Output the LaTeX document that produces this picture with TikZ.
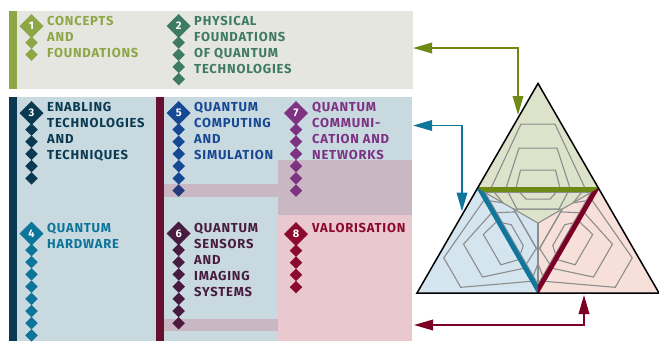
\documentclass[tikz,border=0pt]{standalone}
\usepackage{fontspec}
\setmainfont{Fira Sans}
\newfontfamily\boxfont{Fira Sans}[LetterSpace=6.0]
\usetikzlibrary{positioning,arrows.meta,shapes.geometric}

\definecolor{cone}{RGB}{141,166,70}
\definecolor{ctwo}{RGB}{62,122,100}
\definecolor{cthree}{RGB}{10,58,82}
\definecolor{cfour}{RGB}{14,117,154}
\definecolor{cfive}{RGB}{23,72,148}
\definecolor{csix}{RGB}{72,28,64}
\definecolor{cseven}{RGB}{125,50,130}
\definecolor{ceight}{RGB}{139,10,45}
\definecolor{cbar}{RGB}{104,16,48}
\definecolor{ctopbg}{RGB}{230,230,224}
\definecolor{clowbg}{RGB}{200,217,224}
\definecolor{cmauve}{RGB}{201,184,196}
\definecolor{cpink}{RGB}{233,200,207}
\definecolor{ctopfill}{RGB}{221,227,203}
\definecolor{cleftfill}{RGB}{213,229,240}
\definecolor{crightfill}{RGB}{247,224,218}
\definecolor{colive}{RGB}{110,138,20}
\definecolor{cteal}{RGB}{17,118,156}
\definecolor{cwine}{RGB}{122,0,38}
\definecolor{linegray}{RGB}{140,140,140}

\begin{document}
\begin{tikzpicture}[x=1pt, y=-1pt,
    bigdia/.style={diamond, inner sep=0pt, outer sep=0pt, minimum size=24pt, text=white, font=\boxfont\bfseries\fontsize{11}{11}\selectfont},
    smalldia/.style={diamond, inner sep=0pt, outer sep=0pt, minimum size=12.5pt},
    heading/.style={anchor=north west, inner sep=0pt, align=left, font=\boxfont\bfseries\fontsize{13}{16}\selectfont},
    isoline/.style={draw=linegray, line width=1.1pt},
    link/.style={{Triangle[length=19pt,width=10.5pt]}-{Triangle[length=19pt,width=10.5pt]}, line width=1.8pt}]
\useasboundingbox (0,0) rectangle (659,341);

% panels
\fill[ctopbg] (9,11) rectangle (413,89);
\fill[cone] (9,11) rectangle (17,89);
\fill[clowbg] (9,97) rectangle (412,341);
\fill[cthree] (9,97) rectangle (17,341);
\fill[cbar] (156,97) rectangle (164,341);
\fill[cmauve] (278,160) rectangle (412,215);
\fill[cmauve] (164,184) rectangle (278,197);
\fill[cpink] (278,215) rectangle (412,341);
\fill[cmauve] (164,319) rectangle (278,331);

% triangle
\coordinate (apex) at (538,83.4);
\coordinate (bl) at (417,293);
\coordinate (br) at (659,293);
\coordinate (ctr) at (538,223.1);
\foreach \ang/\col in {0/ctopfill, 120/cleftfill, -120/crightfill} {
  \begin{scope}[shift={(ctr)}, rotate=\ang]
    \fill[\col] (0,-139.7) -- (-60.5,-34.9) -- (0,0) -- (60.5,-34.9) -- cycle;
    \clip (0,-139.7) -- (-60.5,-34.9) -- (0,0) -- (60.5,-34.9) -- cycle;
    \draw[isoline] (-17,-99) -- (17,-99) -- (47,-35) -- (30,-14) -- (-30,-14) -- (-47,-35) -- cycle;
    \draw[isoline] (-19,-75) -- (19,-75) -- (32,-35) -- (21,-14) -- (-21,-14) -- (-32,-35) -- cycle;
    \draw[isoline] (-17.5,-53) -- (17.5,-53) -- (22,-35) -- (12,-24) -- (-12,-24) -- (-22,-35) -- cycle;
  \end{scope}
}
\foreach \ang in {0,120,-120}
  \draw[isoline, rotate around={\ang:(ctr)}] (ctr) -- ++(0,69.9);
\foreach \ang/\col in {0/colive, 120/cteal, -120/cwine} {
  \begin{scope}[shift={(ctr)}, rotate=\ang]
    \clip (0,-139.7) -- (-60.5,-34.9) -- (0,0) -- (60.5,-34.9) -- cycle;
    \draw[isoline] (-70,-30.6) -- (70,-30.6);
    \draw[\col, line width=4.8pt] (-70,-33.4) -- (70,-33.4);
  \end{scope}
}
\draw[line width=1.5pt] (apex) -- (bl) -- (br) -- cycle;

% links
\coordinate (topport) at (413,48);
\coordinate (apexport) at (518,115);
\coordinate (lowport) at (413,125.5);
\coordinate (leftport) at (462,211.5);
\coordinate (baseport) at (414,325);
\coordinate (rightport) at (584,295);
\draw[link, colive] (topport) -| (apexport);
\draw[link, cteal] (lowport) -| (leftport);
\draw[link, cwine] (baseport) -| (rightport);

% numbered blocks
\node[bigdia, fill=cone] (num1) at (31.5,26) {1};
\node[bigdia, fill=ctwo] (num2) at (178.7,26) {2};
\node[bigdia, fill=cthree] (num3) at (31.5,113) {3};
\node[bigdia, fill=cfive] (num5) at (178.7,113) {5};
\node[bigdia, fill=cseven] (num7) at (296,113) {7};
\node[bigdia, fill=cfour] (num4) at (31.5,233.5) {4};
\node[bigdia, fill=csix] (num6) at (178.7,233.5) {6};
\node[bigdia, fill=ceight] (num8) at (296,234) {8};

\foreach \i in {1,2}
  \node[smalldia, fill=cone] (s1-\i) at ([yshift={-4.3pt-12.2pt*\i}]num1.center) {};
\foreach \i in {1,...,4}
  \node[smalldia, fill=ctwo] (s2-\i) at ([yshift={-4.3pt-12.2pt*\i}]num2.center) {};
\foreach \i in {1,...,5}
  \node[smalldia, fill=cthree] (s3-\i) at ([yshift={-4.3pt-12.2pt*\i}]num3.center) {};
\foreach \i in {1,...,5}
  \node[smalldia, fill=cfive] (s5-\i) at ([yshift={-4.3pt-12.2pt*\i}]num5.center) {};
\node[smalldia, fill=cfive!70!csix] (s5-6) at ([yshift=-77.5pt]num5.center) {};
\foreach \i in {1,...,6}
  \node[smalldia, fill=cseven] (s7-\i) at ([yshift={-4.3pt-12.2pt*\i}]num7.center) {};
\foreach \i in {1,...,8}
  \node[smalldia, fill=cfour] (s4-\i) at ([yshift={-4.3pt-12.2pt*\i}]num4.center) {};
\foreach \i in {1,...,6}
  \node[smalldia, fill=csix] (s6-\i) at ([yshift={-4.3pt-12.2pt*\i}]num6.center) {};
\node[smalldia, fill=csix!80!cbar] (s6-7) at ([yshift=-89.7pt]num6.center) {};
\foreach \i in {1,...,4}
  \node[smalldia, fill=ceight] (s8-\i) at ([yshift={-4.3pt-12.2pt*\i}]num8.center) {};

\node[heading, text=cone] (concepts) at (47,16) {CONCEPTS\\AND\\FOUNDATIONS};
\node[heading, text=ctwo] (physical) at (194,16) {PHYSICAL\\FOUNDATIONS\\OF QUANTUM\\TECHNOLOGIES};
\node[heading, text=cthree] (enabling) at (47,102.3) {ENABLING\\TECHNOLOGIES\\AND\\TECHNIQUES};
\node[heading, text=cfive] (computing) at (194,102.3) {QUANTUM\\COMPUTING\\AND\\SIMULATION};
\node[heading, text=cseven] (communication) at (312,102.3) {QUANTUM\\COMMUNI-\\CATION AND\\NETWORKS};
\node[heading, text=cfour] (hardware) at (47,223.3) {QUANTUM\\HARDWARE};
\node[heading, text=csix] (sensors) at (194,223.3) {QUANTUM\\SENSORS\\AND\\IMAGING\\SYSTEMS};
\node[heading, text=ceight] (valorisation) at (312,223.3) {VALORISATION};
\end{tikzpicture}
\end{document}
